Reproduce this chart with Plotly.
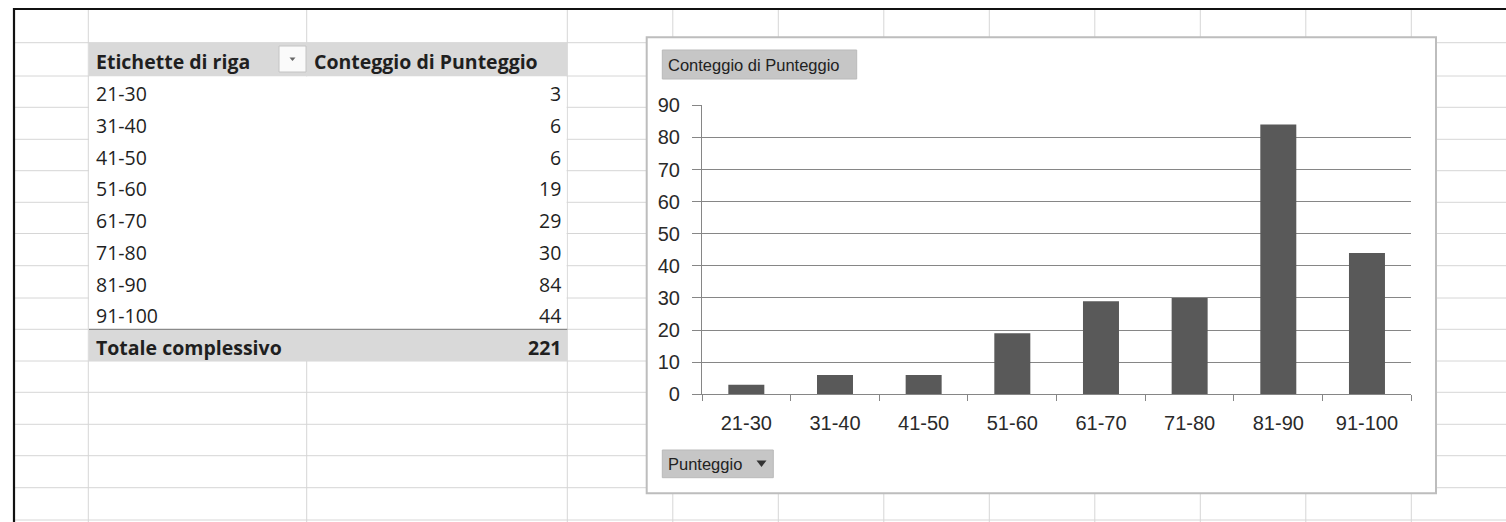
import plotly.graph_objects as go

# ---------------- data ----------------
categories = ["21-30", "31-40", "41-50", "51-60", "61-70", "71-80", "81-90", "91-100"]
counts = [3, 6, 6, 19, 29, 30, 84, 44]
y_ticks = [0, 10, 20, 30, 40, 50, 60, 70, 80, 90]
row_header = "Etichette di riga"
value_header = "Conteggio di Punteggio"
total_label = "Totale complessivo"
chart_title = "Conteggio di Punteggio"
field_button = "Punteggio"
grand_total = sum(counts)

# ---------------- layout helpers (pixel -> paper) ----------------
W, H = 1506, 522


def px(x):
    return x / W


def py(y):
    return 1 - y / H


rows = [9, 42.7, 76, 107.3, 139.3, 170.7, 202.3, 233.5, 265.7, 298, 329.3,
        361, 392.3, 424.3, 455.7, 487.7, 520]
cols = [88.3, 306.7, 567.3, 672.8, 778.3, 883.8, 989.3, 1094.8, 1200.3,
        1305.8, 1411.3]

GRID = "#d6d6d6"
shapes = []


def rect(x0, y0, x1, y1, fill, line=None, lw=0):
    shapes.append(dict(type="rect", xref="paper", yref="paper", layer="below",
                       x0=px(x0), x1=px(x1), y0=py(y1), y1=py(y0),
                       fillcolor=fill,
                       line=dict(color=line or fill, width=lw)))


def hline(y, x0, x1, color, w=1):
    shapes.append(dict(type="line", xref="paper", yref="paper", layer="below",
                       x0=px(x0), x1=px(x1), y0=py(y), y1=py(y),
                       line=dict(color=color, width=w)))


def vline(x, y0, y1, color, w=1):
    shapes.append(dict(type="line", xref="paper", yref="paper", layer="below",
                       x0=px(x), x1=px(x), y0=py(y0), y1=py(y1),
                       line=dict(color=color, width=w)))


# spreadsheet grid
for r in rows[1:]:
    hline(r, 14, W, GRID)
for c in cols:
    vline(c, 9, H, GRID)

# pivot table body
rect(89, 76.5, 566.6, 329.3, "white")
rect(89, 42.7, 567.3, 76, "#d9d9d9")
rect(89, 329.3, 567.3, 361, "#d9d9d9")
hline(329.3, 89, 567.3, "#8a8a8a", 1.2)
# dropdown button in header
rect(279, 46, 306, 72, "#fafafa", "#c4c4c4", 1)
shapes.append(dict(type="path", xref="paper", yref="paper", layer="below",
                   path="M {} {} L {} {} L {} {} Z".format(
                       px(289.5), py(57.5), px(295.5), py(57.5), px(292.5), py(61)),
                   fillcolor="#666666", line=dict(width=0)))

# outer borders
hline(9, 13, W, "#111111", 2)
vline(14, 8, H, "#111111", 2.2)

# chart box
rect(646.7, 37.3, 1436, 493.3, "white", "#bdbdbd", 2)
# chart title button and field button
rect(662.3, 50, 856.7, 79, "#c6c6c6", "#bababa", 1)
rect(662.3, 450, 773.3, 477.7, "#c6c6c6", "#bababa", 1)
shapes.append(dict(type="path", xref="paper", yref="paper", layer="below",
                   path="M {} {} L {} {} L {} {} Z".format(
                       px(756.5), py(460.5), px(766.5), py(460.5), px(761.5), py(467)),
                   fillcolor="#333333", line=dict(width=0)))

# ---------------- annotations (text) ----------------
annotations = []
TABLE_FONT = "'Open Sans', Lato, sans-serif"
CHART_FONT = "'Liberation Sans', Arial, sans-serif"


def text(x, y, s, anchor="left", size=19.5, bold=False, family=TABLE_FONT, color="#1f1f1f"):
    annotations.append(dict(xref="paper", yref="paper", x=px(x), y=py(y),
                            xanchor=anchor, yanchor="middle", showarrow=False,
                            text="<b>%s</b>" % s if bold else s,
                            font=dict(family=family, size=size, color=color)))


text(94.3, 61.7, row_header, bold=True)
text(312.3, 61.7, value_header, bold=True)
for i, (cat, val) in enumerate(zip(categories, counts)):
    yc = rows[3 + i] - 13.5
    text(94.3, yc, cat)
    text(563, yc, str(val), anchor="right")
text(94.3, 347, total_label, bold=True)
text(563, 347, str(grand_total), anchor="right", bold=True)

text(666, 65, chart_title, size=16.5, family=CHART_FONT, color="#222222")
text(666, 464, field_button, size=16.5, family=CHART_FONT, color="#222222")

# ---------------- chart ----------------
fig = go.Figure(go.Bar(x=categories, y=counts, marker=dict(color="#595959", line=dict(width=0)),
                       hoverinfo="x+y"))

AX = "#868686"
fig.update_layout(
    width=W, height=H,
    margin=dict(l=0, r=0, t=0, b=0, pad=0, autoexpand=False),
    paper_bgcolor="white", plot_bgcolor="rgba(0,0,0,0)",
    showlegend=False,
    bargap=0.594,
    shapes=shapes,
    annotations=annotations,
    xaxis=dict(domain=[px(702), px(1411.3)], showline=True, linecolor=AX, linewidth=1.2,
               ticks="outside", ticklen=6, tickcolor=AX, tickwidth=1.2, automargin=False,
               tickson="boundaries", showgrid=False, ticklabelstandoff=11,
               tickfont=dict(family=CHART_FONT, size=20, color="#2a2a2a")),
    yaxis=dict(domain=[py(394.3), py(105.3)], range=[0, 90], tickvals=y_ticks,
               showline=True, linecolor=AX, linewidth=1.2, automargin=False,
               ticks="outside", ticklen=9, tickcolor=AX, tickwidth=1.2,
               showgrid=True, gridcolor=AX, gridwidth=1.2, zeroline=False,
               ticklabelstandoff=8,
               tickfont=dict(family=CHART_FONT, size=20, color="#2a2a2a")),
)

fig.write_html("out.html", config={"displayModeBar": False},
               post_script="document.body.style.margin='0';")
